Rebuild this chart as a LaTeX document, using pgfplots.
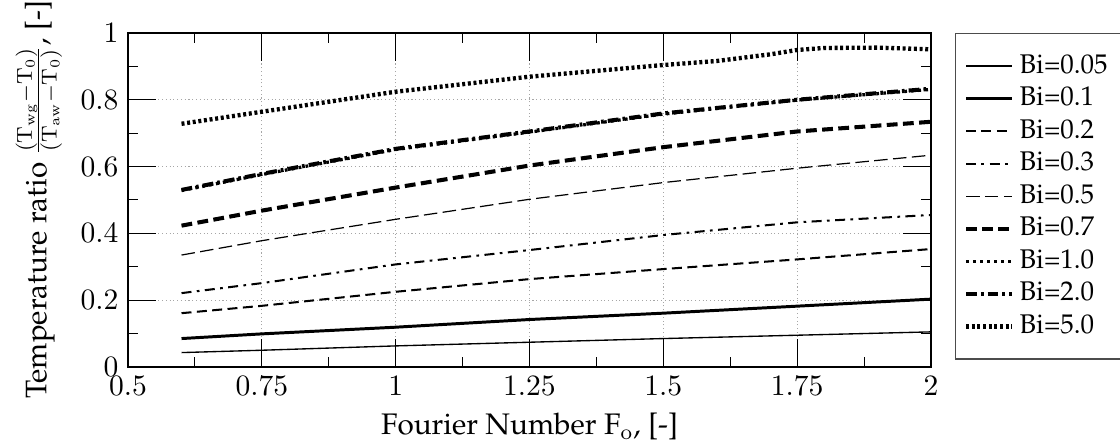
\documentclass[border=0pt]{standalone}
\usepackage[T1]{fontenc}
\usepackage{palatino}
\usepackage{pgfplots}
\pgfplotsset{compat=1.18}
\begin{document}
\begin{tikzpicture}
\begin{axis}[
  name=ax,
  scale only axis,
  width=297.4pt, height=123.7pt,
  xmin=0.5, xmax=2, ymin=0, ymax=1,
  xtick={0.5,0.75,1,1.25,1.5,1.75,2},
  xticklabels={$0.5$,$0.75$,$1$,$1.25$,$1.5$,$1.75$,$2$},
  ytick={0,0.2,0.4,0.6,0.8,1},
  yticklabels={$0$,$0.2$,$0.4$,$0.6$,$0.8$,$1$},
  minor x tick num=1, minor y tick num=1,
  major tick length=10.5pt, minor tick length=3.7pt,
  tick style={black, line width=0.4pt},
  grid=major,
  major grid style={densely dotted, gray!70, line width=0.4pt},
  axis line style={line width=0.6pt},
  ticklabel style={font=\fontsize{11}{13}\selectfont},
  xlabel={Fourier Number F$_{\mathrm{o}}$, [-]},
  ylabel={Temperature ratio $\frac{(\mathrm{T}_{\mathrm{wg}}-\mathrm{T}_0)}{(\mathrm{T}_{\mathrm{aw}}-\mathrm{T}_0)}$, [-]},
  label style={font=\fontsize{11}{13}\selectfont},
  xlabel style={at={(axis description cs:0.5,0)}, anchor=base, yshift=-25.2pt},
  legend style={at={(1.03,1)}, anchor=north west, draw=black!70, line width=0.5pt,
    font=\fontsize{10}{12}\selectfont, row sep=0pt, inner xsep=3pt, inner ysep=6pt,
    nodes={inner ysep=0pt, text height=8.6pt, text depth=3.45pt}},
  legend cell align=left,
]
\addplot[black, line width=0.5pt] coordinates {(0.6,0.043) (0.75,0.050) (1,0.063) (1.25,0.074) (1.5,0.085) (1.75,0.095) (2,0.105)};
\addlegendentry{Bi=0.05}
\addplot[black, line width=1.1pt] coordinates {(0.6,0.085) (0.75,0.099) (1,0.119) (1.25,0.142) (1.5,0.161) (1.75,0.182) (2,0.203)};
\addlegendentry{Bi=0.1}
\addplot[black, line width=0.75pt, dash pattern=on 3.7pt off 2pt] coordinates {(0.6,0.161) (0.75,0.183) (1,0.225) (1.25,0.263) (1.5,0.293) (1.75,0.322) (2,0.353)};
\addlegendentry{Bi=0.2}
\addplot[black, line width=0.75pt, dash pattern=on 3.7pt off 2pt on 1pt off 2pt] coordinates {(0.6,0.221) (0.75,0.251) (1,0.307) (1.25,0.350) (1.5,0.395) (1.75,0.433) (2,0.455)};
\addlegendentry{Bi=0.3}
\addplot[black, line width=0.45pt, dash pattern=on 5pt off 2pt] coordinates {(0.6,0.335) (0.75,0.378) (1,0.442) (1.25,0.502) (1.5,0.552) (1.75,0.595) (2,0.634)};
\addlegendentry{Bi=0.5}
\addplot[black, line width=1.5pt, dash pattern=on 4pt off 2pt] coordinates {(0.6,0.423) (0.75,0.468) (1,0.537) (1.25,0.603) (1.5,0.658) (1.75,0.705) (2,0.734)};
\addlegendentry{Bi=0.7}
\addplot[black, line width=1.2pt, dash pattern=on 1pt off 1.6pt] coordinates {(0.6,0.528) (0.75,0.576) (1,0.651) (1.25,0.703) (1.5,0.757) (1.75,0.799) (2,0.831)};
\addlegendentry{Bi=1.0}
\addplot[black, line width=1.5pt, dash pattern=on 4pt off 1.5pt on 1pt off 1.5pt] coordinates {(0.6,0.530) (0.75,0.578) (1,0.653) (1.25,0.705) (1.5,0.759) (1.75,0.800) (2,0.833)};
\addlegendentry{Bi=2.0}
\addplot[black, line width=1.6pt, dash pattern=on 1.1pt off 1pt] coordinates {(0.6,0.728) (0.75,0.764) (1,0.824) (1.25,0.869) (1.5,0.904) (1.6,0.916) (1.7,0.936) (1.75,0.949) (1.8,0.955) (1.9,0.956) (2,0.951)};
\addlegendentry{Bi=5.0}
\end{axis}
\pgfresetboundingbox
\path[use as bounding box] ([xshift=-47.4pt,yshift=-27.4pt]ax.south west) rectangle ([xshift=70pt,yshift=12.2pt]ax.north east);
\end{tikzpicture}
\end{document}
